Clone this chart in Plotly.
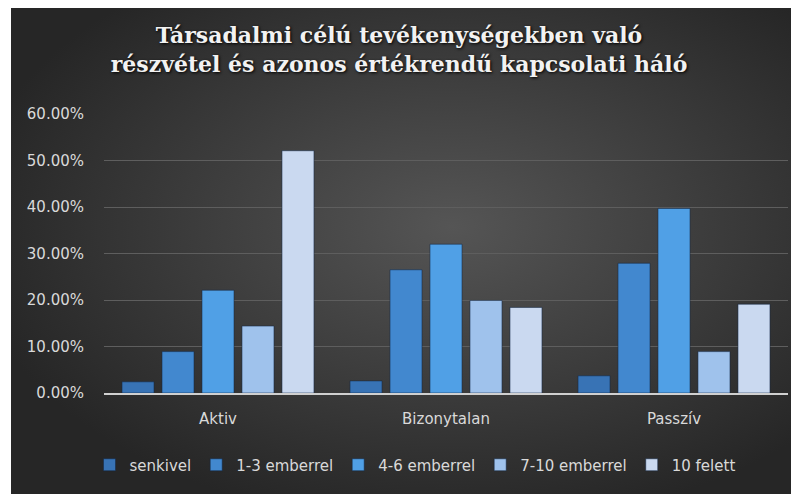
import base64
import plotly.graph_objects as go

categories = ["Aktiv", "Bizonytalan", "Passzív"]
series_names = ["senkivel", "1-3 emberrel", "4-6 emberrel", "7-10 emberrel", "10 felett"]
senkivel = [0.024, 0.026, 0.037]
emb_1_3 = [0.089, 0.265, 0.279]
emb_4_6 = [0.221, 0.320, 0.397]
emb_7_10 = [0.144, 0.199, 0.089]
felett_10 = [0.521, 0.184, 0.191]
y_ticks = [0, 0.1, 0.2, 0.3, 0.4, 0.5, 0.6]

values = [senkivel, emb_1_3, emb_4_6, emb_7_10, felett_10]
colors = ["#3873b5", "#4288cf", "#50a0e6", "#9fc2ec", "#cad9f0"]

# page body margin of 8px offsets the figure; size to the visible window
W, H = 791, 486
L, R, T, B = 96, 11, 106, 101
pw, ph = W - L - R, H - T - B

fig = go.Figure()
for name, vals, col in zip(series_names, values, colors):
    fig.add_trace(go.Bar(
        name=name, x=categories, y=vals,
        marker=dict(color=col, line=dict(color="rgba(20,40,70,0.55)", width=1)),
    ))

# radial gradient background (decoration)
svg = f'''<svg xmlns="http://www.w3.org/2000/svg" width="{W}" height="{H}" viewBox="0 0 {W} {H}" preserveAspectRatio="none">
<defs><radialGradient id="g" cx="56%" cy="45%" r="62%">
<stop offset="0%" stop-color="#555555"/><stop offset="100%" stop-color="#262626"/>
</radialGradient></defs>
<rect x="3" y="0" width="{W-3}" height="{H}" fill="url(#g)"/></svg>'''
uri = "data:image/svg+xml;base64," + base64.b64encode(svg.encode()).decode()

fig.add_layout_image(dict(
    source=uri, xref="paper", yref="paper",
    x=-L / pw, y=1 + T / ph, sizex=W / pw, sizey=H / ph,
    xanchor="left", yanchor="top", sizing="stretch", layer="below",
))

fig.update_layout(
    width=W, height=H,
    margin=dict(l=L, r=R, t=T, b=B),
    paper_bgcolor="#ffffff",
    plot_bgcolor="rgba(0,0,0,0)",
    barmode="group", bargap=0.123, bargroupgap=0.2,
    title=dict(
        text="Társadalmi célú tevékenységekben való<br>részvétel és azonos értékrendű kapcsolati háló",
        x=(399 - 8) / W, xref="container", xanchor="center",
        y=1 - 35 / H, yref="container", yanchor="middle",
        font=dict(family="DejaVu Serif", size=22, color="#f2f2f2", weight="bold",
                  shadow="1px 1px 3px #000"),
    ),
    font=dict(family="DejaVu Sans", size=15, color="#d9d9d9"),
    legend=dict(
        orientation="h", x=(407 - L) / pw, xanchor="center",
        y=(385 - 457) / ph, yanchor="middle",
        font=dict(family="DejaVu Sans", size=15, color="#d9d9d9"),
        bgcolor="rgba(0,0,0,0)", itemwidth=30,
    ),
    xaxis=dict(
        showgrid=False, showline=True, linecolor="#d0d0d0", linewidth=1.5,
        ticks="", ticklabelstandoff=11,
        tickfont=dict(family="DejaVu Sans", size=15, color="#d9d9d9"),
    ),
    yaxis=dict(
        range=[0, 0.6], tickvals=y_ticks, tickformat=".2%",
        showgrid=True, gridcolor="#5e5e5e", gridwidth=1,
        zeroline=False, showline=False, ticks="",
        ticklabelstandoff=19,
        tickfont=dict(family="DejaVu Sans", size=15, color="#d9d9d9"),
    ),
)

fig.write_html("out.html")
